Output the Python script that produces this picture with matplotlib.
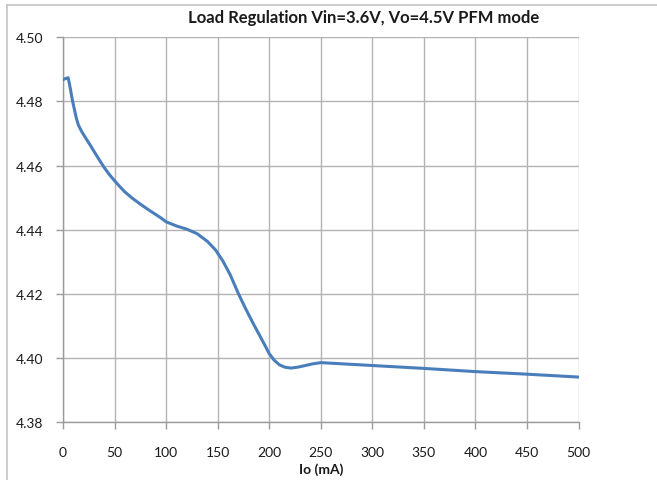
import matplotlib
matplotlib.use("Agg")
import matplotlib.pyplot as plt
from matplotlib.lines import Line2D

# load regulation readings (Io in mA, Vo in V)
io_ma = [0, 3, 5, 7, 9, 11, 13, 15, 18, 22, 26, 30, 35, 40, 45, 50, 55, 60,
         67, 75, 85, 95, 100, 110, 120, 130, 140, 148, 155, 162, 170, 177,
         184, 190, 196, 200, 205, 210, 215, 221, 228, 235, 242, 250,
         300, 350, 400, 450, 500]
vo = [4.4868, 4.4872, 4.4874, 4.4842, 4.4806, 4.4776, 4.4747, 4.4726, 4.4707,
      4.4686, 4.4666, 4.4645, 4.4619, 4.4594, 4.4572, 4.4553, 4.4535, 4.4518,
      4.4499, 4.4480, 4.4458, 4.4437, 4.4425, 4.4412, 4.4402, 4.4388, 4.4364,
      4.4337, 4.4303, 4.4261, 4.4202, 4.4155, 4.4111, 4.4075, 4.4039, 4.4014,
      4.3993, 4.3979, 4.3972, 4.3969, 4.3972, 4.3977, 4.3982, 4.3986,
      4.3977, 4.3968, 4.3958, 4.3950, 4.3941]

x_ticks = [0, 50, 100, 150, 200, 250, 300, 350, 400, 450, 500]
y_ticks = [4.38, 4.40, 4.42, 4.44, 4.46, 4.48, 4.50]

plt.rcParams['font.family'] = ['Lato', 'DejaVu Sans']

W, H = 657, 481
fig = plt.figure(figsize=(W / 100, H / 100), dpi=100)
ax = fig.add_axes([63 / W, (H - 423.3) / H, (578.5 - 63) / W, (423.3 - 38.3) / H])

ax.plot(io_ma, vo, color='#4a7ebb', lw=2.2, solid_capstyle='round',
        solid_joinstyle='round', zorder=3)

ax.set_xlim(0, 500)
ax.set_ylim(4.38, 4.50)
ax.set_xticks(x_ticks)
ax.set_yticks(y_ticks)
ax.set_yticklabels([f"{v:.2f}" for v in y_ticks])
ax.grid(True, color='#b3b3b3', lw=1.0)
ax.set_axisbelow(True)
for side in ['top', 'right']:
    ax.spines[side].set_visible(False)
for side in ['left', 'bottom']:
    ax.spines[side].set_color('#9a9a9a')
    ax.spines[side].set_linewidth(1.0)
ax.tick_params(axis='both', direction='out', length=5, width=1.0, color='#9a9a9a',
               labelsize=10, labelcolor='#1a1a1a')
ax.tick_params(axis='x', pad=12)
ax.tick_params(axis='y', pad=9)

ax.set_xlabel("Io (mA)", fontsize=10, fontweight='bold', labelpad=3, color='#1a1a1a')
fig.text(364 / W, 1 - 18 / H, "Load Regulation Vin=3.6V, Vo=4.5V PFM mode",
         ha='center', va='center', fontsize=12, fontweight='bold', color='#1a1a1a')

# chart area frame (clipped by the image edge)
fig.add_artist(Line2D([6.5 / W, 1], [1 - 5.5 / H, 1 - 5.5 / H], transform=fig.transFigure,
                      color='#c4c4c4', lw=1.2))
fig.add_artist(Line2D([6.5 / W, 6.5 / W], [0, 1 - 5.5 / H], transform=fig.transFigure,
                      color='#c4c4c4', lw=1.2))

fig.savefig("out.png", dpi=100)
